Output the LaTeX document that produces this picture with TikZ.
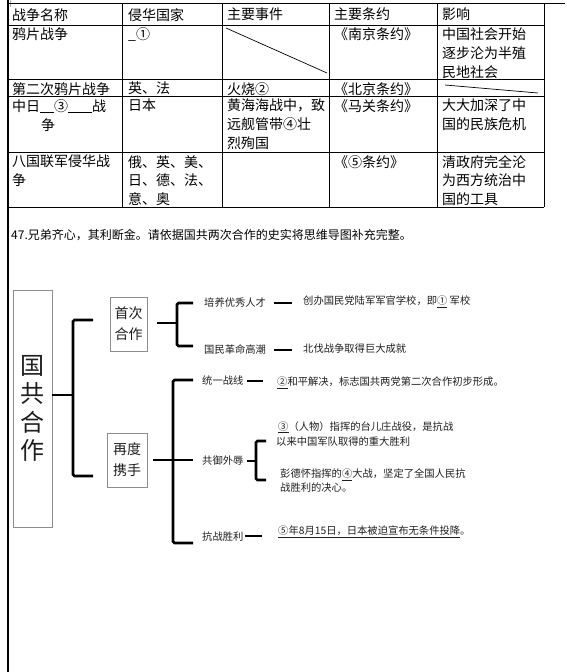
\documentclass[tikz,border=0pt]{standalone}
\usepackage{fontspec}
\setmainfont{Noto Sans CJK SC}
\definecolor{boxgray}{RGB}{140,140,140}
\definecolor{txt}{RGB}{30,30,30}
\tikzset{
  cell/.style={anchor=north west,inner sep=0pt,align=left,font=\fontsize{14}{19}\selectfont},
  qtext/.style={anchor=west,inner sep=0pt,font=\fontsize{12}{14}\selectfont},
  lab/.style={anchor=west,inner sep=0pt,text=txt,font=\fontsize{10.3}{15}\selectfont},
  mbox/.style={draw=boxgray,line width=0.8pt,inner sep=0pt,text=txt},
  tline/.style={line width=0.8pt},
  thick3/.style={line width=2.8pt},
  dashbar/.style={line width=2.5pt}
}
\begin{document}
\begin{tikzpicture}[x=1pt,y=-1pt]
\useasboundingbox (0,0) rectangle (567,672);
% page marks
\draw[gray!60,line width=0.5pt] (10,0) -- (10,7);
\draw[line width=1.6pt] (8,0) -- (8,672);
% table grid
\draw[tline] (8,3) -- (565,3);
\foreach \yy in {25,79,96,152,207} \draw[tline] (8,\yy) -- (544,\yy);
\foreach \xx in {122,222,329,437,544} \draw[tline] (\xx,3) -- (\xx,207);
\coordinate (d1a) at (226,28); \coordinate (d1b) at (327,73);
\coordinate (d2a) at (445,85); \coordinate (d2b) at (538,93);
\draw[line width=0.7pt] (d1a) -- (d1b);
\draw[line width=0.7pt] (d2a) -- (d2b);
% header
\node[cell] (h1) at (12,8) {战争名称};
\node[cell] (h2) at (128,8) {侵华国家};
\node[cell] (h3) at (227,8) {主要事件};
\node[cell] (h4) at (334,8) {主要条约};
\node[cell] (h5) at (442,8) {影响};
% row 2
\node[cell] (r21) at (12,27) {鸦片战争};
\node[cell] (r22) at (128,27) {\_①};
\node[cell] (r24) at (334,27) {《南京条约》};
\node[cell] (r25) at (442,27) {中国社会开始\\逐步沦为半殖\\民地社会};
% row 3
\node[cell] (r31) at (12,82) {第二次鸦片战争};
\node[cell] (r32) at (128,82) {英、法};
\node[cell] (r33) at (227,82) {火烧②};
\node[cell] (r34) at (334,82) {《北京条约》};
% row 4
\node[cell] (r41) at (12,99) {中日\underline{\hspace{14pt}}③\underline{\hspace{24pt}}战\\\hspace{29pt}争};
\node[cell] (r42) at (128,99) {日本};
\node[cell] (r43) at (227,99) {黄海海战中，致\\远舰管带④壮\\烈殉国};
\node[cell] (r44) at (334,99) {《马关条约》};
\node[cell] (r45) at (442,99) {大大加深了中\\国的民族危机};
% row 5
\node[cell,font=\fontsize{14}{18.5}\selectfont] (r51) at (12,155) {八国联军侵华战\\争};
\node[cell,font=\fontsize{14}{18.5}\selectfont] (r52) at (128,155) {俄、英、美、\\日、德、法、\\意、奥};
\node[cell,font=\fontsize{14}{18.5}\selectfont] (r54) at (334,155) {《⑤条约》};
\node[cell,font=\fontsize{14}{18.5}\selectfont] (r55) at (442,155) {清政府完全沦\\为西方统治中\\国的工具};
% question
\node[qtext] (q) at (11,235) {47.兄弟齐心，其利断金。请依据国共两次合作的史实将思维导图补充完整。};
% mind map
\node[mbox,minimum width=39pt,minimum height=237pt,align=center,font=\fontsize{24}{28.5}\selectfont] (root) at (32.5,408.5) {国\\共\\合\\作};
\node[mbox,minimum width=37pt,minimum height=54pt,align=center,font=\fontsize{14}{21}\selectfont] (first) at (128.5,324) {首次\\合作};
\node[mbox,minimum width=40pt,minimum height=54pt,align=center,font=\fontsize{14}{21}\selectfont] (second) at (127,460) {再度\\携手};
% bracket from root
\coordinate (b1t) at (93,320); \coordinate (b1b) at (93,476);
\draw[thick3] (root.east |- 0,395) -- (73,395);
\draw[thick3,rounded corners=1.5pt] (b1t) -- (73,320) -- (73,476) -- (b1b);
% first cooperation
\coordinate (f0) at (157,323);
\draw[thick3] (f0) -- (177,323);
\draw[thick3,rounded corners=1.5pt] (193,303) -- (177,303) -- (177,346) -- (193,346);
\node[lab] (l1) at (204,303) {培养优秀人才};
\node[lab] (l2) at (204,350) {国民革命高潮};
\draw[dashbar] (l1.east) ++(8,0) coordinate (l1a) -- ++(18,0) coordinate (l1b);
\draw[dashbar] (l2.east) ++(8,0) coordinate (l2a) -- ++(18,0) coordinate (l2b);
\node[lab] (t1) at (303,302) {创办国民党陆军军官学校，即\underline{①} 军校};
\node[lab] (t2) at (303,349) {北伐战争取得巨大成就};
% second cooperation
\coordinate (s0) at (153,460);
\draw[thick3] (s0) -- (193,460);
\draw[thick3,rounded corners=1.5pt] (193,380) -- (173,380) -- (173,543) -- (193,543);
\node[lab] (l3) at (202,381) {统一战线};
\node[lab] (l4) at (202,461) {共御外辱};
\node[lab] (l5) at (202,537) {抗战胜利};
\draw[dashbar] (247,381) -- (263,381);
\draw[dashbar] (247,461) -- (256,461);
\draw[thick3,rounded corners=1.5pt] (266,441) -- (256,441) -- (256,480) -- (266,480);
\draw[dashbar] (245,536) -- (262,536);
\node[lab] (t3) at (277,383) {\underline{②}和平解决，标志国共两党第二次合作初步形成。};
\node[lab,anchor=north west,align=left,font=\fontsize{10.3}{15}\selectfont] (t4) at (276,421) {\hspace{2pt}\underline{③}（人物）指挥的台儿庄战役，是抗战\\以来中国军队取得的重大胜利};
\node[lab,anchor=north west,align=left,font=\fontsize{10.3}{14}\selectfont] (t5) at (280,469) {彭德怀指挥的\underline{④}大战，坚定了全国人民抗\\战胜利的决心。};
\node[lab] (t6) at (278,532) {\underline{⑤年8月15日，日本被迫宣布无条件投降}。};
\end{tikzpicture}
\end{document}
